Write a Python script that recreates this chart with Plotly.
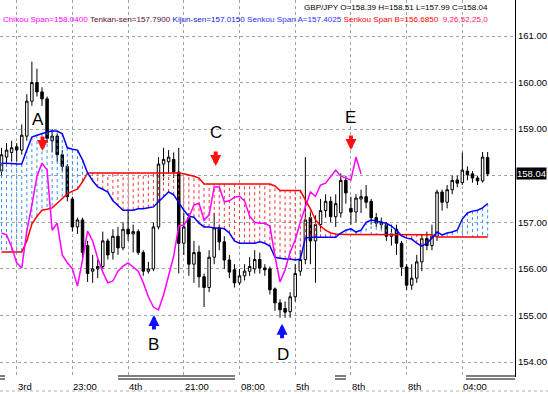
import plotly.graph_objects as go

# ---------------- data ----------------
opens = [158.10,158.40,158.50,158.62,158.55,158.85,159.60,160.00,159.80,159.65,
         158.75,158.85,158.45,158.20,157.50,156.90,157.05,156.50,155.95,156.00,
         156.05,156.60,156.35,156.70,156.45,156.85,156.75,156.80,156.35,155.95,
         156.00,156.90,158.25,158.30,158.35,158.08,156.55,157.10,156.10,156.36,
         155.83,155.60,156.25,156.88,156.58,156.19,155.98,155.70,155.85,155.95,
         156.00,156.20,156.02,156.00,155.57,155.27,155.15,155.08,155.40,155.95,
         156.20,157.10,156.60,156.95,157.25,157.45,157.12,157.20,157.90,157.30,
         157.22,157.50,157.55,157.45,157.10,157.00,156.95,156.70,156.85,156.55,
         156.04,155.65,155.80,156.15,156.65,156.50,156.70,157.65,157.43,157.70,
         157.91,157.85,158.10,158.04,157.95,157.89,158.39]
highs = [158.60,158.70,158.75,158.70,159.10,159.75,160.45,160.30,159.90,159.70,
         159.00,158.90,158.55,158.25,157.55,157.10,157.10,156.60,156.30,156.20,
         156.80,156.65,156.85,156.90,157.00,157.25,156.95,156.85,156.40,156.15,
         157.00,158.40,158.60,158.55,158.50,158.60,157.20,157.20,156.60,156.50,
         155.90,156.40,157.20,156.95,156.70,156.30,156.10,156.00,156.10,156.25,
         156.40,156.35,156.10,156.05,155.60,155.35,155.30,155.50,156.10,156.40,
         158.40,157.20,157.15,157.50,157.60,157.55,157.60,158.05,158.00,157.55,
         157.60,157.70,157.80,157.50,157.20,157.10,157.00,156.95,156.95,156.60,
         156.10,156.10,156.30,156.75,156.80,156.95,157.70,157.70,157.80,158.00,
         158.00,158.50,158.20,158.10,158.00,158.51,158.51]
lows = [157.95,158.20,158.30,158.30,158.45,158.75,159.50,159.70,159.50,158.70,
        158.50,158.30,158.10,157.45,156.80,156.75,156.20,155.72,155.70,155.80,
        156.00,156.20,156.20,156.30,156.40,156.60,156.35,156.30,155.85,155.90,
        155.95,156.85,157.90,158.05,157.95,155.90,156.30,155.85,155.70,155.60,
        155.18,155.50,156.10,156.40,156.00,155.80,155.60,155.65,155.75,155.85,
        155.90,155.90,155.85,155.45,155.10,154.95,154.95,154.95,155.30,155.85,
        156.10,156.10,155.70,156.80,157.10,157.00,156.90,157.10,157.40,156.95,
        157.00,157.20,157.30,156.95,156.90,156.85,156.60,156.50,156.30,155.85,
        155.55,155.55,155.70,155.95,156.40,156.40,156.60,157.25,157.30,157.60,
        157.75,157.80,157.90,157.85,157.80,157.85,157.99]
closes = [158.45,158.55,158.60,158.55,158.87,159.60,160.00,159.80,159.65,158.80,
          158.85,158.45,158.20,157.55,156.90,157.05,156.35,155.90,156.00,156.05,
          156.60,156.30,156.70,156.45,156.85,156.75,156.80,156.35,155.95,156.00,
          156.90,158.25,158.35,158.40,158.08,156.55,156.90,156.10,156.35,155.83,
          155.60,156.25,156.88,156.58,156.19,155.93,155.70,155.85,155.95,156.05,
          156.20,156.02,155.98,155.55,155.27,155.12,155.07,155.40,155.90,156.20,
          157.05,156.60,156.95,157.25,157.45,157.12,157.40,157.90,157.63,157.22,
          157.52,157.55,157.43,157.10,156.98,156.95,156.70,156.75,156.55,156.04,
          155.65,155.80,156.15,156.65,156.50,156.70,157.65,157.43,157.70,157.90,
          157.84,158.12,158.02,157.95,157.89,158.40,158.04]

chikou = [156.77,156.73,156.47,156.13,156.02,156.81,157.37,157.99,158.27,158.12,
          156.83,156.98,156.30,156.13,156.00,155.63,156.19,156.81,156.60,156.23,
          155.93,155.70,155.74,155.95,156.06,156.13,156.04,155.95,155.70,155.40,
          155.18,155.12,155.44,155.83,156.27,156.92,156.94,157.11,157.37,157.41,
          157.05,157.16,157.76,157.76,157.44,157.46,157.54,157.56,157.46,157.13,
          157.00,156.98,156.98,156.92,156.27,155.72,155.98,156.36,156.62,157.00,
          157.33,157.65,157.56,157.80,157.84,157.99,158.12,157.99,157.95,157.91,
          158.40,158.04]

span_a = [158.27,158.27,158.26,158.25,158.25,158.55,158.83,158.87,158.91,158.94,
          158.96,158.96,158.90,158.60,158.57,158.55,158.34,158.06,157.89,157.76,
          157.71,157.65,157.46,157.35,157.26,157.26,157.26,157.29,157.29,157.31,
          157.33,157.44,157.54,157.65,157.59,157.41,157.26,157.13,157.11,156.98,
          156.90,156.90,156.88,156.88,156.86,156.77,156.60,156.55,156.55,156.55,
          156.55,156.58,156.55,156.49,156.25,156.23,156.21,156.21,156.19,156.21,
          156.66,156.68,156.68,156.68,156.68,156.68,156.68,156.77,156.83,156.86,
          156.79,156.83,157.00,157.05,157.03,157.00,156.98,156.92,156.83,156.71,
          156.66,156.64,156.55,156.49,156.55,156.66,156.79,156.73,156.77,156.79,
          156.83,157.07,157.20,157.24,157.26,157.31,157.4025]
span_b = [156.36,156.36,156.36,156.36,156.36,156.60,156.96,157.13,157.26,157.28,
          157.31,157.41,157.52,157.61,157.67,157.71,157.87,158.06,158.06,158.06,
          158.06,158.06,158.06,158.06,158.06,158.06,158.06,158.06,158.06,158.06,
          158.06,158.06,158.06,158.06,158.06,158.06,158.04,158.02,157.99,157.95,
          157.82,157.82,157.82,157.82,157.82,157.82,157.82,157.82,157.82,157.82,
          157.82,157.82,157.82,157.82,157.78,157.68,157.68,157.68,157.68,157.68,
          157.48,157.29,157.05,156.92,156.83,156.77,156.75,156.74,156.74,156.74,
          156.74,156.74,156.74,156.74,156.74,156.74,156.74,156.74,156.74,156.74,
          156.74,156.74,156.74,156.74,156.74,156.73,156.685,156.685,156.685,156.685,
          156.685,156.685,156.685,156.685,156.685,156.685,156.685]

x_tick_idx = [3, 14, 25, 36, 47, 58, 69, 80, 91]
x_tick_text = ["3rd", "23:00", "4th", "21:00", "08:00", "5th", "8th", "8th", "04:00"]
y_ticks = [154, 155, 156, 157, 158, 159, 160, 161]
last_price = 158.04

letters = ["A", "B", "C", "D", "E"]
letter_x = [7.2, 30.1, 42.4, 55.6, 69.0]
letter_y = [159.20, 154.37, 158.92, 154.17, 159.24]
arrow_x = [8.1, 42.3, 69.0, 30.1, 55.4]
arrow_tip = [158.53, 158.21, 158.55, 155.01, 154.82]
arrow_dir = ["down", "down", "down", "up", "up"]

idx = list(range(len(closes)))

# ---------------- figure ----------------
fig = go.Figure()

# cloud hatching
hb_x, hb_y, hr_x, hr_y = [], [], [], []
for i, (a, b) in enumerate(zip(span_a, span_b)):
    if a > b:
        hb_x += [i, i, None]; hb_y += [a, b, None]
    else:
        hr_x += [i, i, None]; hr_y += [a, b, None]
fig.add_trace(go.Scatter(x=hb_x, y=hb_y, mode="lines", hoverinfo="skip",
                         line=dict(color="#2f8fff", width=1, dash="dot")))
fig.add_trace(go.Scatter(x=hr_x, y=hr_y, mode="lines", hoverinfo="skip",
                         line=dict(color="#ff3030", width=1, dash="dot")))

fig.add_trace(go.Candlestick(
    x=idx, open=opens, high=highs, low=lows, close=closes,
    increasing=dict(line=dict(color="#000000", width=1), fillcolor="#ffffff"),
    decreasing=dict(line=dict(color="#000000", width=1), fillcolor="#000000"),
    whiskerwidth=0))

fig.add_trace(go.Scatter(x=idx, y=span_b, mode="lines",
                         line=dict(color="#ff0000", width=1.5)))
fig.add_trace(go.Scatter(x=idx, y=span_a, mode="lines",
                         line=dict(color="#0000ff", width=1.5)))
fig.add_trace(go.Scatter(x=idx[:len(chikou)], y=chikou, mode="lines",
                         line=dict(color="#ff00ff", width=1.5)))

ann = []
for t, xv in zip(x_tick_text, x_tick_idx):
    ann.append(dict(x=xv, y=0, xref="x", yref="paper", text=t, showarrow=False,
                    xanchor="left", yanchor="top", xshift=-1, yshift=-2,
                    font=dict(family="Liberation Sans", size=9.5, color="#000")))
for t, xv, yv in zip(letters, letter_x, letter_y):
    ann.append(dict(x=xv, y=yv, text=t, showarrow=False,
                    font=dict(family="Liberation Sans", size=17, color="#000")))
for xv, yv, d in zip(arrow_x, arrow_tip, arrow_dir):
    ann.append(dict(x=xv, y=yv, text="", showarrow=True, ax=0,
                    ay=-16 if d == "down" else 16,
                    arrowhead=2, arrowsize=0.55, arrowwidth=4,
                    arrowcolor="#ff1010" if d == "down" else "#1010ff"))
ann.append(dict(x=1, y=last_price, xref="paper", yref="y", text="158.04",
                showarrow=False, xanchor="left", xshift=1, bgcolor="#000000",
                borderpad=0, font=dict(family="Liberation Sans", size=9.5, color="#ffffff")))
ann.append(dict(x=490/515, y=(377-7)/377, xref="paper", yref="paper",
                text="GBP/JPY O=158.39 H=158.51 L=157.99 C=158.04",
                showarrow=False, xanchor="right", yanchor="middle",
                font=dict(family="Liberation Sans", size=8.1, color="#000")))
hdr = ("<span style='color:#ff00ff'>Chikou Span=158.0400</span> "
       "<span style='color:#5a0a3c'>Tenkan-sen=157.7900</span> "
       "<span style='color:#2020d0'>Kijun-sen=157.0150</span> "
       "<span style='color:#3030ff'>Senkou Span A=157.4025</span> "
       "<span style='color:#ff0000'>Senkou Span B=156.6850</span>  "
       "<span style='color:#ff2060'>9,26,52,25,0</span>")
ann.append(dict(x=490/515, y=(377-19)/377, xref="paper", yref="paper", text=hdr,
                showarrow=False, xanchor="right", yanchor="middle",
                font=dict(family="Liberation Sans", size=8.1)))

shapes = []
for x0, x1 in [(0, 5), (118, 235), (335, 346), (466, 515)]:
    for yy in (376, 379):
        shapes.append(dict(type="line", xref="paper", yref="paper",
                           x0=x0/515, x1=x1/515, y0=(377-yy)/377, y1=(377-yy)/377,
                           line=dict(color="#000", width=1)))
shapes.append(dict(type="line", xref="paper", yref="paper", x0=0, x1=548/515,
                   y0=(377-391)/377, y1=(377-391)/377,
                   line=dict(color="#b0b0b0", width=1, dash="dot")))

fig.update_layout(
    width=548, height=394, margin=dict(l=0, r=33, t=0, b=17),
    paper_bgcolor="#ffffff", plot_bgcolor="#ffffff", showlegend=False,
    annotations=ann, shapes=shapes,
    xaxis=dict(range=[-0.296, 101.4], tickvals=x_tick_idx, showticklabels=False,
               showgrid=True, gridcolor="#9aa6a6", griddash="dot", gridwidth=1,
               zeroline=False, showline=False, ticks="",
               rangeslider=dict(visible=False)),
    yaxis=dict(side="right", range=[153.678, 161.773], tickvals=y_ticks,
               ticktext=["" if v == 158 else "%.2f" % v for v in y_ticks], showgrid=True,
               gridcolor="#9aa6a6", griddash="dot", gridwidth=1, zeroline=False,
               showline=True, linecolor="#000000", linewidth=1, ticks="",
               tickfont=dict(family="Liberation Sans", size=9.5, color="#000")),
)

fig.write_html("out.html")
